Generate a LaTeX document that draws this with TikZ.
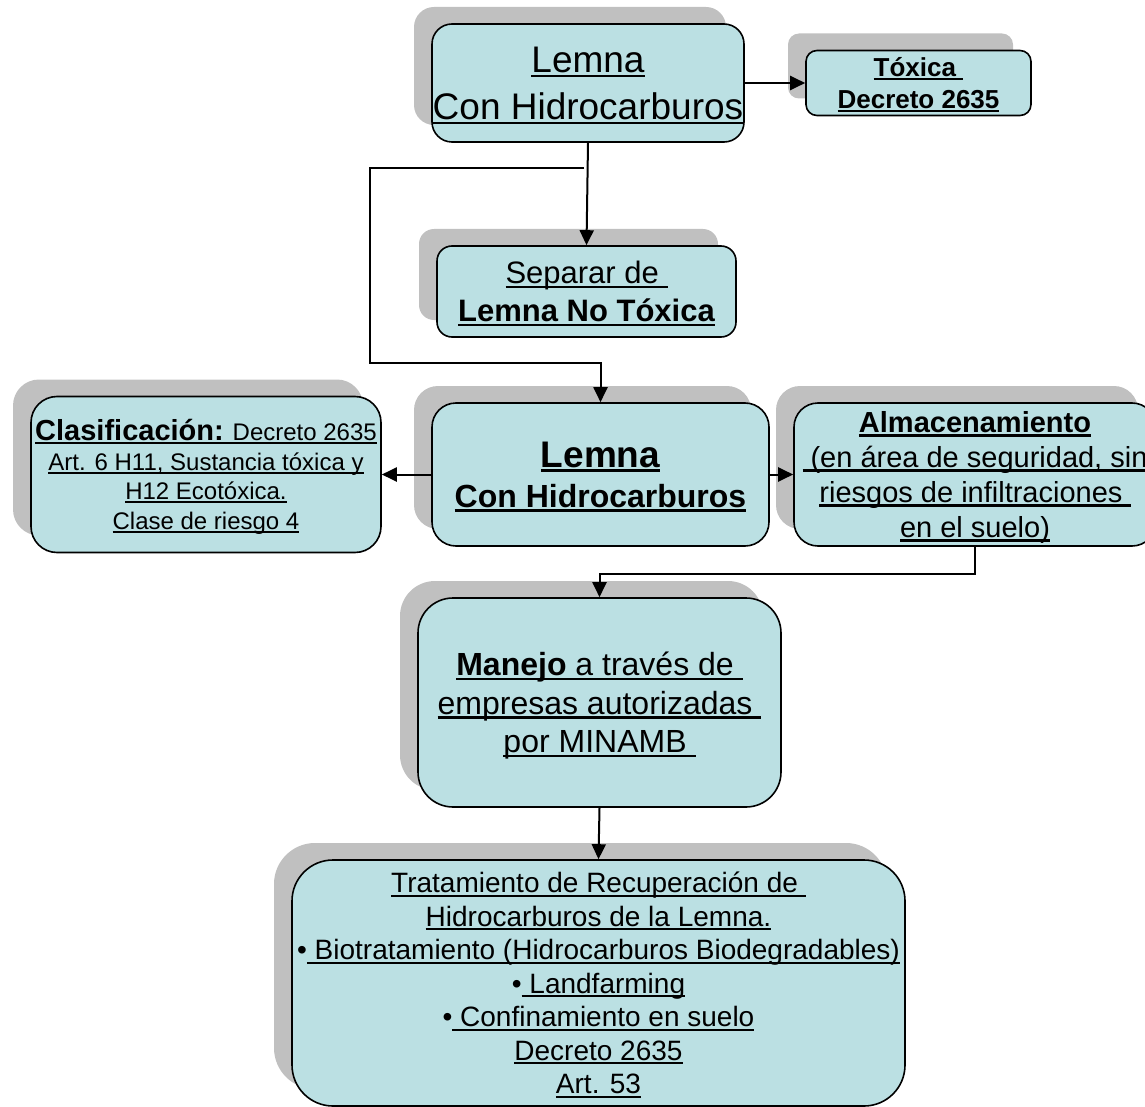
\documentclass[tikz,border=0pt]{standalone}
\usepackage{fontspec}
\setmainfont{Liberation Sans}
\usetikzlibrary{arrows.meta,shadows}

\definecolor{cajaazul}{RGB}{187,224,227}
\definecolor{sombra}{RGB}{192,192,192}

% subrayado de un renglón completo (conserva los espacios finales)
\newcommand{\subr}[1]{\setbox0\hbox{#1}\rlap{\rule[-0.14em]{\wd0}{0.075em}}\box0}
\newcommand{\tam}[2]{\fontsize{#1}{#2}\selectfont}

\begin{document}
\begin{tikzpicture}[
        % --- AJUSTES GENERALES ---
        x=1pt, y=-1pt, % coordenadas en pixeles, eje y hacia abajo
        % Estilo de las cajas (rectángulo redondeado con sombra gris)
        caja/.style={
            rectangle,
            draw,
            fill=cajaazul,
            line width=1.6pt,
            align=center,
            inner sep=0pt,
            text depth=-8pt, % baja un poco el texto
            drop shadow={shadow xshift=-18pt, shadow yshift=17pt,
                         fill=sombra, opacity=1}
        },
        % Estilo de las flechas
        flecha/.style={
            -{Triangle[length=15pt,width=14pt]},
            line width=2pt
        }
    ]

    \useasboundingbox (0,0) rectangle (1145,1107);

    % --- FILA 1: LEMNA CON HIDROCARBUROS ---
    \node[caja, minimum width=312pt, minimum height=118pt, rounded corners=20pt,
          font=\tam{37}{47}] (sup) at (588,83)
        {\subr{Lemna}\\\subr{Con Hidrocarburos}};
    \node[caja, minimum width=225pt, minimum height=65pt, rounded corners=11pt,
          font=\tam{26}{32}\bfseries] (toxica) at (918.5,83)
        {\subr{Tóxica }\\\subr{Decreto 2635}};

    % --- FILA 2: SEPARAR ---
    \node[caja, minimum width=299pt, minimum height=91pt, rounded corners=15pt,
          font=\tam{31}{38}] (separar) at (586.5,291.5)
        {\subr{Separar de }\\\subr{\bfseries Lemna No Tóxica}};

    % --- FILA 3: CLASIFICACIÓN, LEMNA, ALMACENAMIENTO ---
    \node[caja, minimum width=350pt, minimum height=156pt, rounded corners=26pt,
          font=\tam{24}{29.5}] (clasif) at (206,474.5)
        {\subr{{\tam{29}{29.5}\bfseries Clasificación:} Decreto 2635}\\
         \subr{Art. 6 H11, Sustancia tóxica y}\\
         \subr{H12 Ecotóxica.}\\
         \subr{Clase de riesgo 4}};
    \node[caja, minimum width=337pt, minimum height=143pt, rounded corners=24pt,
          font=\tam{32}{40}\bfseries] (lemna) at (600.5,474.5)
        {\subr{\tam{37}{40}Lemna}\\\subr{Con Hidrocarburos}};
    \node[caja, minimum width=362pt, minimum height=143pt, rounded corners=24pt,
          font=\tam{29}{35}] (almac) at (975,474.5)
        {\subr{\bfseries Almacenamiento}\\
         \subr{ (en área de seguridad, sin}\\
         \subr{riesgos de infiltraciones }\\
         \subr{en el suelo)}};

    % --- FILA 4: MANEJO ---
    \node[caja, minimum width=363pt, minimum height=209pt, rounded corners=35pt,
          font=\tam{32}{38.5}] (manejo) at (599.5,702.5)
        {\subr{{\bfseries Manejo} a través de }\\
         \subr{empresas autorizadas }\\
         \subr{por MINAMB }};

    % --- FILA 5: TRATAMIENTO ---
    \node[caja, minimum width=613pt, minimum height=246pt, rounded corners=41pt,
          font=\tam{28}{33.5}] (tratam) at (598.5,983)
        {\subr{Tratamiento de Recuperación de }\\
         \subr{Hidrocarburos de la Lemna.}\\
         •\subr{ Biotratamiento (Hidrocarburos Biodegradables)}\\
         •\subr{ Landfarming}\\
         •\subr{ Confinamiento en suelo}\\
         \subr{Decreto 2635}\\
         \subr{Art. 53}};

    % --- CONECTORES ---
    \coordinate (rama) at (584,168); % desvío hacia la izquierda
    \coordinate (codo) at (370,363);

    \draw[flecha] (sup.east) -- (toxica.west);
    \draw[flecha] (sup.south) -- (separar.north);
    \draw[flecha] (rama) -| (codo) -| (lemna.north);
    \draw[flecha] (lemna.west) -- (clasif.east);
    \draw[flecha] (lemna.east) -- (almac.west);
    \draw[flecha] (almac.south) -- ++(0,27) -| (manejo.north);
    \draw[flecha] (manejo.south) -- (tratam.north);

\end{tikzpicture}
\end{document}
